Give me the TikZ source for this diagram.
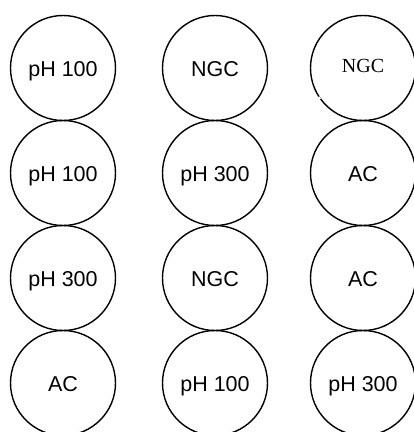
\documentclass[tikz,border=0pt]{standalone}
\usepackage{fontspec}
\setmainfont{Liberation Sans}
\newfontfamily\timesfont{Liberation Serif}
\usetikzlibrary{positioning}

\tikzset{
  well/.style={draw, circle, line width=1.4pt, minimum size=105pt, inner sep=0pt,
    text height=17pt, text depth=1pt, font=\fontsize{21.5}{25}\selectfont}
}

\begin{document}
\begin{tikzpicture}[x=1pt, y=-1pt]
    \useasboundingbox (0,0) rectangle (414,432);

    % --- első sor ---
    \node[well] (c11) at (63,68) {pH 100};
    \node[well] (c12) at (215,68) {NGC};
    \node[well, text height=9pt, font=\fontsize{20}{24}\timesfont] (c13) at (363,68) {NGC};
    % kis rés a jobb felső körön
    \draw[white, line width=2.5pt] (c13.213) -- (c13.216);

    % --- második sor ---
    \node[well] (c21) at (63,173) {pH 100};
    \node[well] (c22) at (215,173) {pH 300};
    \node[well] (c23) at (363,173) {AC};

    % --- harmadik sor ---
    \node[well] (c31) at (63,278) {pH 300};
    \node[well] (c32) at (215,278) {NGC};
    \node[well] (c33) at (363,278) {AC};

    % --- negyedik sor ---
    \node[well] (c41) at (63,383) {AC};
    \node[well] (c42) at (215,383) {pH 100};
    \node[well] (c43) at (363,383) {pH 300};

\end{tikzpicture}
\end{document}
